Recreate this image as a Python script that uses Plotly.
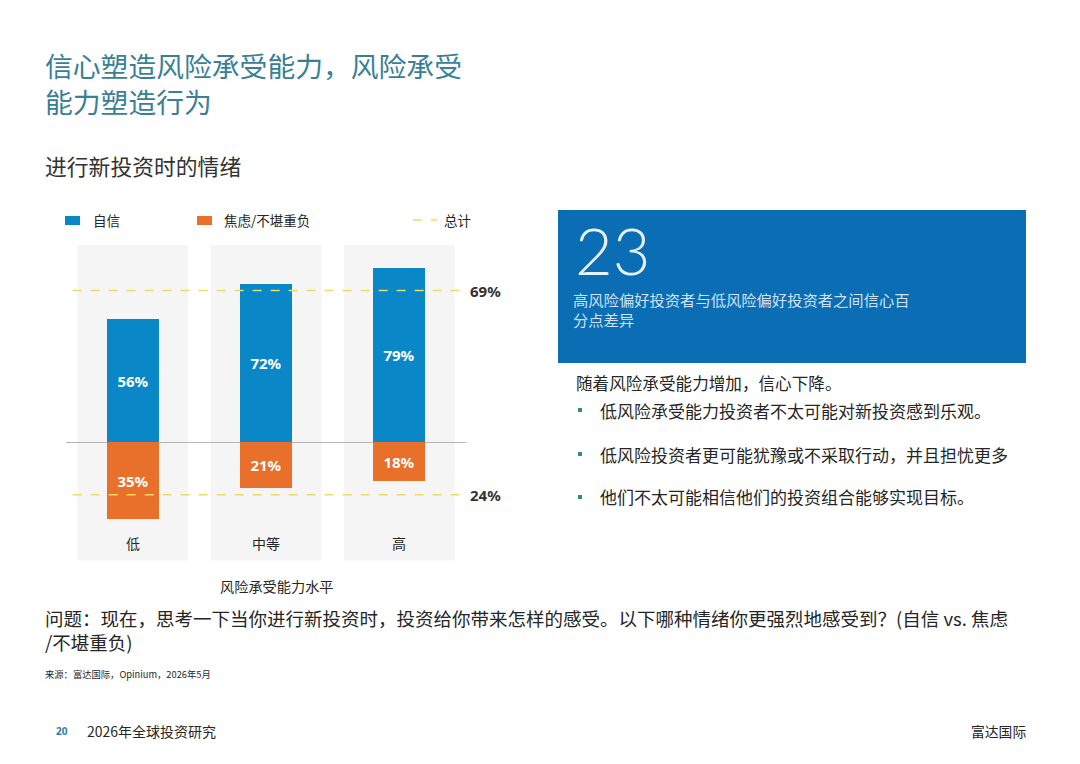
import plotly.graph_objects as go

W, H = 1080, 764

# ---- data ----
categories = ["低", "中等", "高"]
confident = [56, 72, 79]
anxious = [35, 21, 18]
total_confident = 69
total_anxious = 24
legend_labels = ["自信", "焦虑/不堪重负", "总计"]
big_number = "23"

BLUE = "#0a87c6"
ORANGE = "#e8702a"
YELLOW = "#eedb62"
BOX = "#0b6db3"
TEAL = "#3a7f95"
DARK = "#262626"
FONT = "Noto Sans CJK SC"


def px(x):
    return x / W


def py(y):
    return 1 - y / H


def note(x, y, text, size, color=DARK, family=FONT, anchor="left", weight="normal"):
    return dict(x=px(x), y=py(y), xref="paper", yref="paper", xanchor=anchor, yanchor="middle",
                text=text, showarrow=False, align="left",
                font=dict(family=family, size=size, color=color, weight=weight))


fig = go.Figure()

xs = list(range(len(categories)))

fig.add_trace(go.Bar(
    x=xs, y=confident, width=0.39, marker=dict(color=BLUE, line=dict(width=0)),
    text=[f"{v}%" for v in confident], textposition="inside", insidetextanchor="middle",
    textfont=dict(color="white", size=15, family="Noto Sans", weight="bold"),
    name=legend_labels[0], showlegend=False, cliponaxis=False,
))
fig.add_trace(go.Bar(
    x=xs, y=[-v for v in anxious], width=0.39, marker=dict(color=ORANGE, line=dict(width=0)),
    text=[f"{v}%" for v in anxious], textposition="inside", insidetextanchor="middle",
    textfont=dict(color="white", size=15, family="Noto Sans", weight="bold"),
    name=legend_labels[1], showlegend=False, cliponaxis=False,
))

for t in (total_confident, -total_anxious):
    fig.add_trace(go.Scatter(
        x=[-0.45, len(categories) - 0.55], y=[t, t], mode="lines",
        line=dict(color=YELLOW, width=1.5, dash="dash"),
        showlegend=False, hoverinfo="skip",
    ))

shapes = []
annotations = []

# gray panels behind each category
for i in xs:
    shapes.append(dict(type="rect", xref="x", yref="y", x0=i - 0.415, x1=i + 0.415,
                       y0=-54, y1=89.7, fillcolor="#f5f5f5", line=dict(width=0), layer="below"))

# category labels
for i, c in zip(xs, categories):
    annotations.append(dict(x=i, y=-46, xref="x", yref="y", text=c, showarrow=False,
                            yanchor="middle", font=dict(family=FONT, size=14, color=DARK)))

# total labels
for t, lab in ((total_confident, total_confident), (-total_anxious, total_anxious)):
    annotations.append(dict(x=2.5, y=t, xref="x", yref="y", text=f"{lab}%", showarrow=False,
                            xanchor="left", yanchor="middle", xshift=2,
                            font=dict(family="Noto Sans", size=15, color="#333", weight="bold")))

# axis title
annotations.append(note(277, 586, "风险承受能力水平", 14.2, anchor="center"))

# legend
shapes.append(dict(type="rect", xref="paper", yref="paper", x0=px(65), x1=px(80), y0=py(225), y1=py(216),
                   fillcolor=BLUE, line=dict(width=0)))
shapes.append(dict(type="rect", xref="paper", yref="paper", x0=px(197), x1=px(212), y0=py(225), y1=py(216),
                   fillcolor=ORANGE, line=dict(width=0)))
shapes.append(dict(type="line", xref="paper", yref="paper", x0=px(413), x1=px(437), y0=py(220), y1=py(220),
                   line=dict(color=YELLOW, width=1.5, dash="dash")))
for xpos, lab in zip((91, 222, 442), legend_labels):
    annotations.append(note(xpos, 220, lab, 13.5))

# title / subtitle
annotations.append(note(43, 83, "信心塑造风险承受能力，风险承受<br>能力塑造行为", 27.8, color=TEAL))
annotations.append(note(43, 165, "进行新投资时的情绪", 21.8, color="#333"))

# right blue box
shapes.append(dict(type="rect", xref="paper", yref="paper", x0=px(558), x1=px(1026), y0=py(363), y1=py(210),
                   fillcolor=BOX, line=dict(width=0)))
annotations.append(note(573, 250, big_number, 65, color="#e6f1fa", family="Lato", weight=300))
annotations.append(note(571, 308.5, "高风险偏好投资者与低风险偏好投资者之间信心百<br>分点差异", 15.3, color="#cfe2f2"))

# right text
annotations.append(note(574, 383, "随着风险承受能力增加，信心下降。", 16.6))
bullets = ["低风险承受能力投资者不太可能对新投资感到乐观。",
           "低风险投资者更可能犹豫或不采取行动，并且担忧更多",
           "他们不太可能相信他们的投资组合能够实现目标。"]
for yy, b in zip((410, 454, 497), bullets):
    shapes.append(dict(type="rect", xref="paper", yref="paper", x0=px(578), x1=px(582),
                       y0=py(yy + 2), y1=py(yy - 2), fillcolor="#3a8a7a", line=dict(width=0)))
    annotations.append(note(598, yy, b, 17))

# question
annotations.append(note(43, 629.5, "问题：现在，思考一下当你进行新投资时，投资给你带来怎样的感受。以下哪种情绪你更强烈地感受到？(自信 vs. 焦虑<br>/不堪重负)", 18.5))
annotations.append(note(43, 674, "来源：富达国际，Opinium，2026年5月", 9.3))

# footer
annotations.append(note(54, 731, "20", 10, color="#2c7fa8", family="Noto Sans", weight="bold"))
annotations.append(note(85, 731, "2026年全球投资研究", 14))
annotations.append(note(1028, 731, "富达国际", 13.8, anchor="right"))

fig.update_layout(
    width=W, height=H, margin=dict(l=0, r=0, t=0, b=0),
    paper_bgcolor="white", plot_bgcolor="rgba(0,0,0,0)",
    barmode="relative", bargap=0,
    shapes=shapes, annotations=annotations,
    font=dict(family=FONT),
    xaxis=dict(domain=[px(66), px(466)], range=[-0.5, 2.5], showgrid=False, zeroline=False,
               showticklabels=False, ticks="", fixedrange=True),
    yaxis=dict(domain=[py(573.8), py(233.4)], range=[-60, 95], showgrid=False,
               zeroline=True, zerolinecolor="#b5b5b5", zerolinewidth=1,
               showticklabels=False, ticks="", fixedrange=True),
    showlegend=False,
)

fig.write_html("out.html", config={"displayModeBar": False},
               post_script="document.body.style.margin='0';")
